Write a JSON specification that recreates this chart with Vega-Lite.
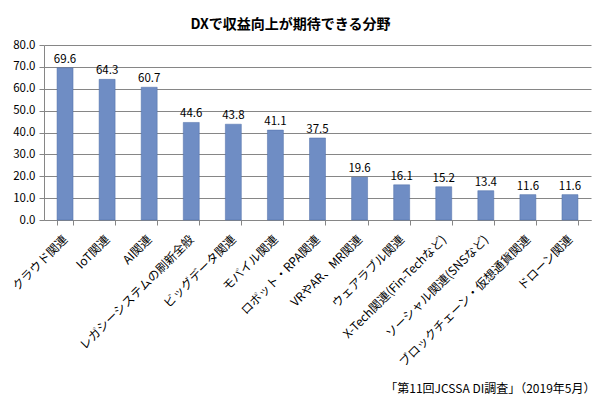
{
  "$schema": "https://vega.github.io/schema/vega-lite/v6.json",
  "width": 547,
  "height": 175,
  "autosize": {"type": "none"},
  "padding": {"left": 44, "top": 45, "right": 16, "bottom": 178},
  "background": "white",
  "config": {
    "font": "Noto Sans CJK JP",
    "view": {"stroke": null},
    "axis": {"labelFont": "Noto Sans CJK JP", "titleFont": "Noto Sans CJK JP"}
  },
  "title": {
    "text": "DXで収益向上が期待できる分野",
    "fontSize": 14,
    "fontWeight": "bold",
    "color": "#000000",
    "font": "Noto Sans CJK JP",
    "offset": 7,
    "dx": -27
  },
  "data": {
    "values": [
      {"cat": "クラウド関連", "v": 69.6},
      {"cat": "IoT関連", "v": 64.3},
      {"cat": "AI関連", "v": 60.7},
      {"cat": "レガシーシステムの刷新全般", "v": 44.6},
      {"cat": "ビッグデータ関連", "v": 43.8},
      {"cat": "モバイル関連", "v": 41.1},
      {"cat": "ロボット・RPA関連", "v": 37.5},
      {"cat": "VRやAR、MR関連", "v": 19.6},
      {"cat": "ウェアラブル関連", "v": 16.1},
      {"cat": "X-Tech関連(Fin-Techなど)", "v": 15.2},
      {"cat": "ソーシャル関連(SNSなど)", "v": 13.4},
      {"cat": "ブロックチェーン・仮想通貨関連", "v": 11.6},
      {"cat": "ドローン関連", "v": 11.6}
    ]
  },
  "encoding": {
    "x": {
      "field": "cat",
      "type": "nominal",
      "sort": null,
      "scale": {"paddingInner": 0.62, "paddingOuter": 0.31},
      "axis": {
        "title": "「第11回JCSSA DI調査」（2019年5月）",
        "titleAnchor": "end",
        "titleAlign": "right",
        "titleX": 551,
        "titleY": 163,
        "titleFontSize": 12,
        "titleFontWeight": "normal",
        "titleColor": "#000000",
        "labelAngle": -45,
        "labelAlign": "right",
        "labelBaseline": "middle",
        "labelFontSize": 12,
        "labelColor": "#000000",
        "labelPadding": 12,
        "labelLimit": 300,
        "labelOverlap": false,
        "tickBand": "extent",
        "tickSize": 5,
        "tickColor": "#868686",
        "domainColor": "#868686",
        "grid": false
      }
    },
    "y": {
      "field": "v",
      "type": "quantitative",
      "scale": {"domain": [0, 80]},
      "axis": {
        "title": null,
        "values": [0, 10, 20, 30, 40, 50, 60, 70, 80],
        "format": ".1f",
        "labelFontSize": 11.5,
        "labelColor": "#000000",
        "labelPadding": 4,
        "tickSize": 5,
        "tickColor": "#868686",
        "domainColor": "#868686",
        "gridColor": "#868686",
        "gridWidth": 1
      }
    }
  },
  "layer": [
    {
      "mark": {"type": "bar", "color": "#6f8dc4", "stroke": "#4f6ea8", "strokeWidth": 0.5}
    },
    {
      "mark": {"type": "text", "baseline": "bottom", "dy": -3, "fontSize": 11.5, "color": "#000000"},
      "encoding": {"text": {"field": "v", "type": "quantitative", "format": ".1f"}}
    }
  ]
}
